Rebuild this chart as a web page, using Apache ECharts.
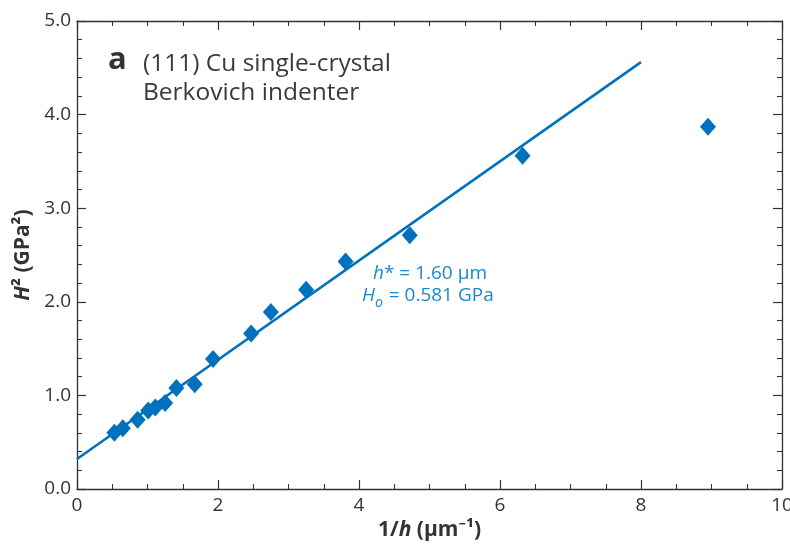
<!DOCTYPE html>
<html>
<head>
<meta charset="utf-8">
<script src="https://cdn.jsdelivr.net/npm/echarts@6/dist/echarts.min.js"></script>
<style>html,body{margin:0;padding:0;background:#fff}#c{width:790px;height:547px}</style>
</head>
<body>
<div id="c"></div>
<script>
// Data
var invH = [0.53, 0.65, 0.86, 1.01, 1.11, 1.25, 1.41, 1.67, 1.93, 2.47, 2.75, 3.25, 3.81, 4.72, 6.32, 8.95];
var hSq  = [0.60, 0.65, 0.74, 0.84, 0.87, 0.92, 1.08, 1.12, 1.39, 1.66, 1.89, 2.13, 2.43, 2.71, 3.56, 3.87];
var fitX = [0, 8];
var fitY = [0.32, 4.56];
var xTicks = [0, 2, 4, 6, 8, 10];
var yTicks = [0.0, 1.0, 2.0, 3.0, 4.0, 5.0];

var BLUE = '#0071bc';
var TXTBLUE = '#1a88cc';
var AX = '#333333';
var FONT = '"Open Sans", "Noto Sans", sans-serif';

var chart = echarts.init(document.getElementById('c'), null, {renderer: 'canvas'});

function baseAxis(extra) {
  return Object.assign({
    type: 'value',
    axisLine: {show: true, onZero: false, lineStyle: {color: AX, width: 1.3}},
    axisTick: {show: true, inside: true, length: 9, lineStyle: {color: AX, width: 1.2}},
    splitLine: {show: false},
    minorSplitLine: {show: false}
  }, extra);
}

var scatterData = invH.map(function (v, i) { return [v, hSq[i]]; });
var fitData = fitX.map(function (v, i) { return [v, fitY[i]]; });

var nameRich = {
  b: {fontSize: 21, fontWeight: 'bold', fontFamily: FONT, color: AX},
  i: {fontSize: 21, fontWeight: 'bold', fontStyle: 'italic', fontFamily: FONT, color: AX}
};

chart.setOption({
  animation: false,
  backgroundColor: '#fff',
  grid: {left: 77, top: 21, right: 8, bottom: 58, containLabel: false, outerBoundsMode: 'none'},
  xAxis: [
    baseAxis({
      min: xTicks[0], max: xTicks[xTicks.length - 1], interval: 2, position: 'bottom',
      minorTick: {show: true, splitNumber: 4, length: 5, lineStyle: {color: AX, width: 1.1}},
      axisLabel: {color: AX, fontSize: 19, fontFamily: FONT, margin: 7},
      name: '{b|1/}{i|h}{b| (µm⁻¹)}', nameLocation: 'middle', nameGap: 31,
      nameTextStyle: {rich: nameRich}
    }),
    baseAxis({
      min: xTicks[0], max: xTicks[xTicks.length - 1], interval: 2, position: 'top',
      minorTick: {show: true, splitNumber: 4, length: 5, lineStyle: {color: AX, width: 1.1}},
      axisLabel: {show: false}
    })
  ],
  yAxis: [
    baseAxis({
      min: yTicks[0], max: yTicks[yTicks.length - 1], interval: 1, position: 'left',
      minorTick: {show: true, splitNumber: 5, length: 5, lineStyle: {color: AX, width: 1.1}},
      axisLabel: {color: AX, fontSize: 19, fontFamily: FONT, margin: 6,
        formatter: function (v) { return v.toFixed(1); }},
      name: '{i|H}{b|² (GPa²)}', nameLocation: 'middle', nameGap: 39, nameRotate: 90,
      nameTextStyle: {rich: nameRich}
    }),
    baseAxis({
      min: yTicks[0], max: yTicks[yTicks.length - 1], interval: 1, position: 'right',
      minorTick: {show: true, splitNumber: 5, length: 5, lineStyle: {color: AX, width: 1.1}},
      axisLabel: {show: false}
    })
  ],
  series: [
    {
      type: 'line', xAxisIndex: 0, yAxisIndex: 0, data: fitData,
      showSymbol: false, symbol: 'none',
      lineStyle: {color: BLUE, width: 2.6}, z: 2, silent: true
    },
    {
      type: 'scatter', xAxisIndex: 0, yAxisIndex: 0, data: scatterData,
      symbol: 'diamond', symbolSize: [16, 18],
      itemStyle: {color: BLUE, opacity: 1}, z: 3
    }
  ],
  graphic: [
    {type: 'text', left: 108, top: 45, style: {text: 'a', fontSize: 31, fontWeight: 'bold', fontFamily: FONT, fill: '#333'}},
    {type: 'text', left: 143, top: 52, style: {text: '(111) Cu single-crystal', fontSize: 24.5, fontFamily: FONT, fill: '#3a3a3a'}},
    {type: 'text', left: 143, top: 81, style: {text: 'Berkovich indenter', fontSize: 24.5, fontFamily: FONT, fill: '#3a3a3a'}},
    {type: 'text', left: 373, top: 264, style: {
      text: '{i|h}{n|* = 1.60 µm}',
      rich: {
        i: {fontSize: 19, fontStyle: 'italic', fontFamily: FONT, fill: TXTBLUE},
        n: {fontSize: 19, fontFamily: FONT, fill: TXTBLUE}
      }}},
    {type: 'text', left: 362, top: 286, style: {
      text: '{i|H}{s|o}{n| = 0.581 GPa}',
      rich: {
        i: {fontSize: 19, fontStyle: 'italic', fontFamily: FONT, fill: TXTBLUE, verticalAlign: 'bottom', lineHeight: 24},
        s: {fontSize: 14, fontStyle: 'italic', fontFamily: FONT, fill: TXTBLUE, verticalAlign: 'bottom', lineHeight: 14, padding: [0, 1, -5, 0]},
        n: {fontSize: 19, fontFamily: FONT, fill: TXTBLUE, verticalAlign: 'bottom', lineHeight: 24}
      }}}
  ]
});
</script>
</body>
</html>
